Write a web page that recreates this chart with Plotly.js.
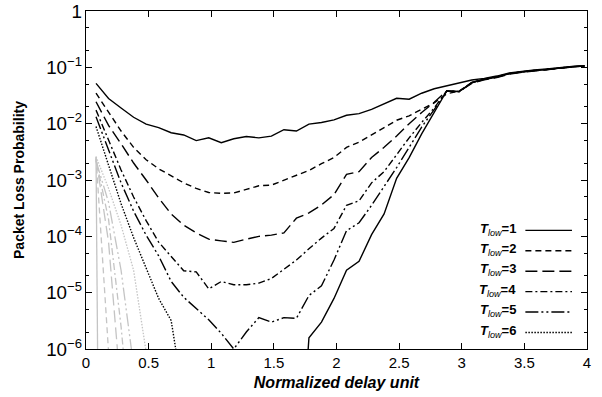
<!DOCTYPE html>
<html>
<head>
<meta charset="utf-8">
<script src="https://cdn.plot.ly/plotly-3.0.1.min.js"></script>
<style>html,body{margin:0;padding:0;background:#fff;}#chart{width:602px;height:397px;}</style>
</head>
<body>
<div id="chart"></div>
<script>
// Normalized delay unit (x positions of samples)
const delay = [0.08,0.18,0.28,0.38,0.48,0.58,0.68,0.78,0.88,0.98,
               1.08,1.18,1.28,1.38,1.48,1.58,1.68,1.78,1.88,1.98,
               2.08,2.18,2.28,2.38,2.48,2.58,2.68,2.78,2.88,2.98,
               3.08,3.18,3.28,3.38,3.48,3.58,3.68,3.78,3.88,3.98];

// Packet loss probability, T_low = 1..6
const tlow1 = [5.2e-2,2.8e-2,1.9e-2,1.3e-2,9.8e-3,8.5e-3,6.9e-3,6.3e-3,5.0e-3,5.6e-3,
               4.6e-3,5.4e-3,5.9e-3,5.6e-3,6.0e-3,7.8e-3,7.4e-3,9.8e-3,1.05e-2,1.17e-2,
               1.41e-2,1.51e-2,1.8e-2,2.29e-2,2.82e-2,2.72e-2,3.47e-2,4.17e-2,4.68e-2,5.25e-2,
               5.96e-2,6.38e-2,7.0e-2,7.94e-2,8.51e-2,9.02e-2,9.33e-2,9.89e-2,0.1035,0.107];
const tlow2 = [3.47e-2,1.58e-2,7.4e-3,3.8e-3,2.29e-3,1.58e-3,1.17e-3,8.9e-4,7.1e-4,6.0e-4,
               5.8e-4,5.9e-4,6.8e-4,7.9e-4,8.1e-4,1.0e-3,1.23e-3,1.48e-3,1.95e-3,2.51e-3,
               3.8e-3,4.68e-3,6.31e-3,8.51e-3,1.15e-2,1.38e-2,1.78e-2,2.34e-2,3.39e-2,3.8e-2,
               5.37e-2,6.17e-2,6.76e-2,7.76e-2,8.32e-2,8.81e-2,9.12e-2,9.77e-2,0.102,0.106];
const tlow3 = [2.45e-2,9.3e-3,4.4e-3,2.0e-3,1.0e-3,4.8e-4,2.5e-4,1.58e-4,1.15e-4,8.9e-5,
               8.3e-5,7.8e-5,8.9e-5,1.0e-4,1.05e-4,1.15e-4,2.1e-4,2.6e-4,3.6e-4,5.5e-4,
               1.26e-3,1.41e-3,2.51e-3,3.8e-3,6.03e-3,1.0e-2,1.58e-2,2.4e-2,3.8e-2,3.7e-2,
               5.2e-2,6.0e-2,6.6e-2,7.6e-2,8.2e-2,8.7e-2,9.0e-2,9.6e-2,0.101,0.105];
const tlow4 = [1.74e-2,5.0e-3,1.51e-3,5.0e-4,1.9e-4,7.9e-5,4.4e-5,2.45e-5,2.34e-5,1.17e-5,
               1.58e-5,1.38e-5,1.38e-5,1.48e-5,1.78e-5,2.63e-5,3.8e-5,6.0e-5,9.3e-5,1.38e-4,
               3.55e-4,4.27e-4,8.9e-4,1.41e-3,2.82e-3,5.6e-3,1.05e-2,1.9e-2,3.8e-2,3.72e-2,
               5.3e-2,6.1e-2,6.7e-2,7.7e-2,8.3e-2,8.8e-2,9.1e-2,9.7e-2,0.102,0.1055];
const tlow5 = [1.32e-2,3.3e-3,8.9e-4,2.8e-4,1.05e-4,4.5e-5,1.58e-5,8.3e-6,5.2e-6,3.3e-6,
               1.9e-6,1.0e-6,2.0e-6,3.6e-6,3.0e-6,3.6e-6,3.5e-6,8.9e-6,1.32e-5,3.8e-5,
               1.26e-4,1.74e-4,3.55e-4,7.6e-4,1.66e-3,3.8e-3,8.7e-3,1.78e-2,3.8e-2,3.68e-2,
               5.4e-2,6.2e-2,6.8e-2,7.8e-2,8.4e-2,8.85e-2,9.15e-2,9.8e-2,0.1025,0.1065];
const tlow6 = [8.9e-3,1.78e-3,3.8e-4,9.5e-5,2.82e-5,7.9e-6,3.2e-6,1.3e-7];
// solid branch rising from the bottom (starts at delay 1.68)
const riseStart = 16;
const rise = [1e-9,1.58e-6,3.0e-6,7.9e-6,2.5e-5,3.6e-5,1.07e-4,2.5e-4,1.07e-3,2.5e-3,
              6.6e-3,1.58e-2,3.8e-2,3.75e-2,5.35e-2,6.15e-2,6.75e-2,7.75e-2,8.3e-2,8.8e-2,
              9.1e-2,9.75e-2,0.1022,0.106];
// light grey curves (larger T_low), steep drop at small delays
const tlow7  = [2.6e-3,1e-30];
const tlow8  = [2.5e-3,9e-7];
const tlow9  = [2.4e-3,7.9e-5,1.6e-7];
const tlow10 = [2.3e-3,2.0e-4,2.5e-6,1e-8];
const tlow11 = [2.2e-3,4.0e-4,2.5e-5,5e-7];
const tlow12 = [2.6e-3,7.1e-4,1.58e-4,2.5e-5,8.9e-7];

const labels = ['1','2','3','4','5','6'];
const dashes = ['solid','6px,4px','12px,5px','7px,3px,2px,3px','13px,3px,2px,3px,2px,3px','1.5px,1.5px'];

const FONT = 'Liberation Sans, Arial, Helvetica, sans-serif';
const blackSeries = [tlow1,tlow2,tlow3,tlow4,tlow5,tlow6];
const greySeries = [tlow7,tlow8,tlow9,tlow10,tlow11,tlow12];

const traces = [];
greySeries.forEach((ys,i)=>{
  traces.push({x:delay.slice(0,ys.length), y:ys, type:'scatter', mode:'lines',
    line:{color:'#c4c4c4', width:1.3, dash:dashes[i]}, showlegend:false, hoverinfo:'skip'});
});
blackSeries.forEach((ys,i)=>{
  traces.push({x:delay.slice(0,ys.length), y:ys, type:'scatter', mode:'lines', name:'T_low='+labels[i],
    line:{color:'#000', width:1.4, dash:dashes[i]}, showlegend:false});
});
traces.push({x:delay.slice(riseStart), y:rise, type:'scatter', mode:'lines',
  line:{color:'#000', width:1.4, dash:'solid'}, showlegend:false});

// hand-built legend: label text on the left, line sample on the right
const annotations = [], shapes = [];
const legTop = 0.351, legStep = 0.0604;
labels.forEach((lab,i)=>{
  const yy = legTop - i*legStep;
  annotations.push({xref:'paper', yref:'paper', x:0.862, y:yy+0.004, xanchor:'right', yanchor:'middle',
    showarrow:false, text:'<b><i>T</i></b><sub><i>low</i></sub><b>='+lab+'</b>',
    font:{family:FONT, size:13, color:'#000'}});
  shapes.push({type:'line', xref:'paper', yref:'paper', x0:0.877, x1:0.970, y0:yy, y1:yy,
    line:{color:'#000', width:1.4, dash:dashes[i]}});
});

const layout = {
  width:602, height:397,
  margin:{l:86, r:15, t:11, b:48},
  paper_bgcolor:'#fff', plot_bgcolor:'#fff',
  font:{family:FONT, color:'#000', size:15},
  showlegend:false,
  xaxis:{range:[0,4], dtick:0.5, tick0:0, ticks:'inside', ticklen:6, tickwidth:1, tickcolor:'#000',
    showline:true, linecolor:'#000', linewidth:1, mirror:'ticks', showgrid:false, zeroline:false,
    tickfont:{family:FONT, size:15},
    title:{text:'<b><i>Normalized delay unit</i></b>', font:{family:FONT, size:16}, standoff:6}},
  yaxis:{type:'log', range:[-6,0], dtick:1, exponentformat:'power', ticks:'inside', ticklen:6, tickwidth:1,
    tickcolor:'#000', showline:true, linecolor:'#000', linewidth:1, mirror:'ticks', showgrid:false, zeroline:false,
    tickfont:{family:FONT, size:15},
    minor:{ticks:'inside', ticklen:3, tickcolor:'#000', dtick:'D2', showgrid:false},
    title:{text:'<b>Packet Loss Probability</b>', font:{family:FONT, size:14}, standoff:18}},
  annotations:annotations,
  shapes:shapes
};

Plotly.newPlot('chart', traces, layout, {staticPlot:true, displayModeBar:false});
</script>
</body>
</html>
